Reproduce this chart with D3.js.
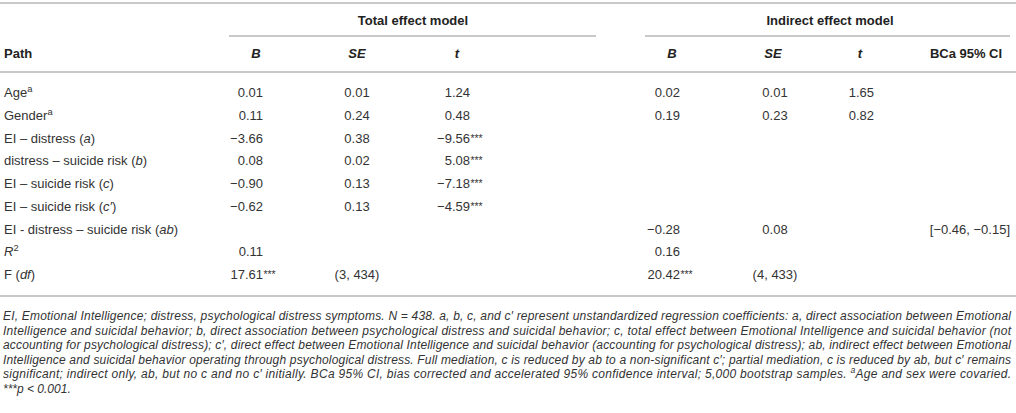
<!DOCTYPE html>
<html>
<head>
<meta charset="utf-8">
<script src="https://cdn.jsdelivr.net/npm/d3@7"></script>
<style>
  body { margin: 0; background: #fff; }
  svg { display: block; font-family: "Liberation Sans", Arial, sans-serif; }
</style>
</head>
<body>
<svg class="table"></svg>
<script>
// row labels: _x_ = italic, ^x^ = superscript
let paths = ["Age^a^", "Gender^a^", "EI – distress (_a_)", "distress – suicide risk (_b_)",
    "EI – suicide risk (_c_)", "EI – suicide risk (_c′_)", "EI - distress – suicide risk (_ab_)",
    "_R_^2^", "F (_df_)"];

let totalB  = ["0.01", "0.11", "−3.66", "0.08", "−0.90", "−0.62", "", "0.11", "17.61***"];
let totalSE = ["0.01", "0.24", "0.38", "0.02", "0.13", "0.13", "", "", "(3, 434)"];
let totalT  = ["1.24", "0.48", "−9.56***", "5.08***", "−7.18***", "−4.59***", "", "", ""];

let indirectB  = ["0.02", "0.19", "", "", "", "", "−0.28", "0.16", "20.42***"];
let indirectSE = ["0.01", "0.23", "", "", "", "", "0.08", "", "(4, 433)"];
let indirectT  = ["1.65", "0.82", "", "", "", "", "", "", ""];
let indirectCI = ["", "", "", "", "", "", "[−0.46, −0.15]", "", ""];

let groups = ["Total effect model", "Indirect effect model"];
let colHeads = ["_B_", "_SE_", "_t_", "_B_", "_SE_", "_t_", "BCa 95% CI"];

let notes = [
    "EI, Emotional Intelligence; distress, psychological distress symptoms. N = 438. a, b, c, and c′ represent unstandardized regression coefficients: a, direct association between Emotional",
    "Intelligence and suicidal behavior; b, direct association between psychological distress and suicidal behavior; c, total effect between Emotional Intelligence and suicidal behavior (not",
    "accounting for psychological distress); c′, direct effect between Emotional Intelligence and suicidal behavior (accounting for psychological distress); ab, indirect effect between Emotional",
    "Intelligence and suicidal behavior operating through psychological distress. Full mediation, c is reduced by ab to a non-significant c′; partial mediation, c is reduced by ab, but c′ remains",
    "significant; indirect only, ab, but no c and no c′ initially. BCa 95% CI, bias corrected and accelerated 95% confidence interval; 5,000 bootstrap samples. ^a^Age and sex were covaried.",
    "***p < 0.001."
];

let W = 1016, H = 413, fs = 13, textCol = "#333", ruleCol = "#c9c9c9";

let svg = d3.select(".table").attr("width", W).attr("height", H);

// writes a string with _italic_ and ^sup^ parts as tspans
function rich(sel, str, size) {
    str.split(/(_[^_]+_|\^[^^]+\^)/).filter(s => s).forEach(p => {
        let t = sel.append("tspan");
        if (p[0] === "_") t.text(p.slice(1, -1)).attr("font-style", "italic");
        else if (p[0] === "^") t.text(p.slice(1, -1)).attr("baseline-shift", "super").attr("font-size", size * 0.72);
        else t.text(p);
    });
}

function rule(x1, x2, y) {
    svg.append("line").attr("x1", x1).attr("x2", x2).attr("y1", y).attr("y2", y)
        .attr("stroke", ruleCol).attr("stroke-width", 2);
}

let y = d3.scalePoint().domain(paths).range([97, 279]);

// columns: value anchor x and header x
let cols = [
    {vals: totalB,     x: 263,  anchor: "end",    hx: 256},
    {vals: totalSE,    x: 357,  anchor: "middle", hx: 357},
    {vals: totalT,     x: 470,  anchor: "end",    hx: 457},
    {vals: indirectB,  x: 680,  anchor: "end",    hx: 672},
    {vals: indirectSE, x: 775,  anchor: "middle", hx: 773},
    {vals: indirectT,  x: 874,  anchor: "end",    hx: 860},
    {vals: indirectCI, x: 1010, anchor: "end",    hx: 966}
];

// rules
rule(0, W, 3);
rule(229, 596, 36);
rule(645, 1010, 36);
rule(0, W, 72);
rule(0, W, 296);

// group headers
let groupX = d3.scaleOrdinal().domain(groups).range([413, 830]);
svg.selectAll(".group").data(groups).enter().append("text")
    .attr("x", d => groupX(d)).attr("y", 25)
    .attr("text-anchor", "middle").attr("font-size", fs).attr("font-weight", "bold").attr("fill", "#222")
    .text(d => d);

// column headers
svg.append("text").attr("x", 4).attr("y", 58).attr("font-size", fs).attr("font-weight", "bold")
    .attr("fill", "#222").text("Path");
cols.forEach((c, i) => {
    let t = svg.append("text").attr("x", c.hx).attr("y", 58).attr("text-anchor", "middle")
        .attr("font-size", fs).attr("font-weight", "bold").attr("fill", "#222");
    rich(t, colHeads[i], fs);
});

// row labels
svg.selectAll(".path").data(paths).enter().append("text")
    .attr("x", 4).attr("y", d => y(d)).attr("font-size", fs).attr("fill", textCol)
    .each(function(d) { rich(d3.select(this), d, fs); });

// cells; significance stars hang after the number
cols.forEach(c => {
    c.vals.forEach((v, i) => {
        if (!v) return;
        let m = v.match(/^(.*?)(\*+)?$/);
        svg.append("text").attr("x", c.x).attr("y", y(paths[i]))
            .attr("text-anchor", c.anchor).attr("font-size", fs).attr("fill", textCol).text(m[1]);
        if (m[2]) {
            svg.append("text").attr("x", c.x + 0.5).attr("y", y(paths[i]) - 1)
                .attr("font-size", fs * 0.8).attr("fill", textCol).text(m[2]);
        }
    });
});

// footnote
let noteY = d3.scalePoint().domain(d3.range(notes.length)).range([320, 393]);
notes.forEach((n, i) => {
    let t = svg.append("text").attr("x", 3).attr("y", noteY(i))
        .attr("font-size", 12).attr("font-style", "italic").attr("fill", textCol);
    if (i < notes.length - 1) t.attr("textLength", 1008).attr("lengthAdjust", "spacing");
    rich(t, n, 12);
});
</script>
</body>
</html>
